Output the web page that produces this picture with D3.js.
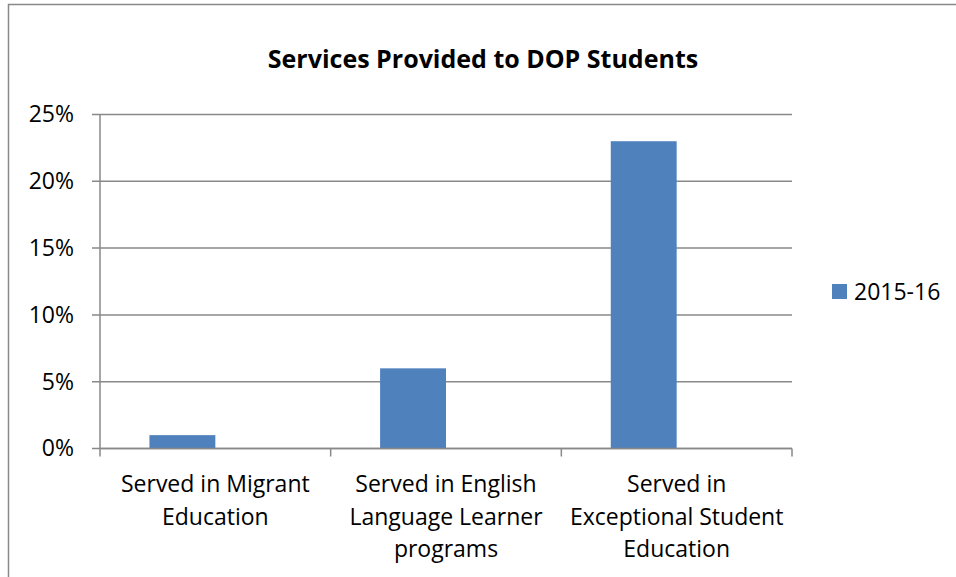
<!DOCTYPE html>
<html>
<head>
<meta charset="utf-8">
<script src="https://cdn.jsdelivr.net/npm/d3@7"></script>
<style>
  html, body { margin: 0; padding: 0; background: #fff; }
  svg { display: block; font-family: "Open Sans", sans-serif; }
</style>
</head>
<body>
<div id="chart"></div>
<script>
// données
const categories = [
  "Served in Migrant Education",
  "Served in English Language Learner programs",
  "Served in Exceptional Student Education"
];
const categoryLines = [
  ["Served in Migrant", "Education"],
  ["Served in English", "Language Learner", "programs"],
  ["Served in", "Exceptional Student", "Education"]
];
const series = ["2015-16", ""];        // 2e série vide (place réservée dans le groupe)
const values2015 = [0.01, 0.06, 0.23];
const yTicks = [0, 0.05, 0.10, 0.15, 0.20, 0.25];

const width = 956, height = 577;
const margin = {left: 100, right: 164, top: 114.5, bottom: 128.5};
const gridColor = "#898989";
const barColor = "#4f81bd";

const svg = d3.select("#chart")
  .append("svg")
  .attr("width", width)
  .attr("height", height);

// cadre
svg.append("path")
  .attr("d", "M8.5," + height + "V4.5H" + width)
  .attr("fill", "none")
  .attr("stroke", gridColor)
  .attr("stroke-width", 1.5);

const x0 = d3.scaleBand()
  .domain(categories)
  .range([margin.left, width - margin.right]);

const x1 = d3.scaleBand()
  .domain(series)
  .range([0, x0.bandwidth()])
  .paddingInner(0)
  .paddingOuter(0.75);

const y = d3.scaleLinear()
  .domain([0, 0.25])
  .range([height - margin.bottom, margin.top]);

// titre
svg.append("text")
  .attr("x", 483)
  .attr("y", 68)
  .attr("text-anchor", "middle")
  .style("font-weight", "bold")
  .style("font-size", "25px")
  .attr("fill", "#000")
  .text("Services Provided to DOP Students");

// grille horizontale (+ petites graduations à gauche)
svg.append("g")
  .selectAll("line")
  .data(yTicks)
  .enter()
  .append("line")
  .attr("x1", margin.left - 8)
  .attr("x2", width - margin.right)
  .attr("y1", d => y(d))
  .attr("y2", d => y(d))
  .attr("stroke", gridColor)
  .attr("stroke-width", 1.5);

// axe Y (étiquettes seulement)
const yAxis = svg.append("g")
  .attr("transform", "translate(" + margin.left + ",0)")
  .call(d3.axisLeft(y).tickValues(yTicks).tickFormat(d3.format(".0%")).tickSize(0).tickPadding(26));
yAxis.select(".domain").remove();
yAxis.selectAll("text")
  .style("font-family", "'Open Sans', sans-serif")
  .style("font-size", "23px")
  .attr("fill", "#000");

// barres
svg.append("g")
  .selectAll("rect")
  .data(values2015)
  .enter()
  .append("rect")
  .attr("x", (d, i) => x0(categories[i]) + x1(series[0]))
  .attr("width", x1.bandwidth())
  .attr("y", d => y(d))
  .attr("height", d => y(0) - y(d))
  .attr("fill", barColor);

// axe vertical
svg.append("line")
  .attr("x1", margin.left).attr("x2", margin.left)
  .attr("y1", y(0.25)).attr("y2", y(0))
  .attr("stroke", gridColor)
  .attr("stroke-width", 1.5);

// axe X et séparateurs de catégories
svg.append("line")
  .attr("x1", margin.left).attr("x2", width - margin.right)
  .attr("y1", y(0)).attr("y2", y(0))
  .attr("stroke", gridColor)
  .attr("stroke-width", 1.5);

const bounds = categories.map(c => x0(c)).concat([x0.range()[1]]);
svg.append("g")
  .selectAll("line")
  .data(bounds)
  .enter()
  .append("line")
  .attr("x1", d => d).attr("x2", d => d)
  .attr("y1", y(0)).attr("y2", y(0) + 8)
  .attr("stroke", gridColor)
  .attr("stroke-width", 1.5);

// étiquettes des catégories
const labels = svg.append("g");
labels.selectAll("text")
  .data(categories)
  .enter()
  .append("text")
  .attr("text-anchor", "middle")
  .style("font-size", "23px")
  .attr("fill", "#000")
  .each(function(d, i) {
    const t = d3.select(this);
    categoryLines[i].forEach((line, k) => {
      t.append("tspan")
        .attr("x", x0(d) + x0.bandwidth() / 2)
        .attr("y", 492 + k * 32.5)
        .text(line);
    });
  });

// légende
const legend = svg.append("g");
legend.append("rect")
  .attr("x", 832)
  .attr("y", 284)
  .attr("width", 15)
  .attr("height", 15)
  .attr("fill", barColor);
legend.append("text")
  .attr("x", 854)
  .attr("y", 299.5)
  .style("font-size", "23px")
  .attr("fill", "#000")
  .text(series[0]);
</script>
</body>
</html>
